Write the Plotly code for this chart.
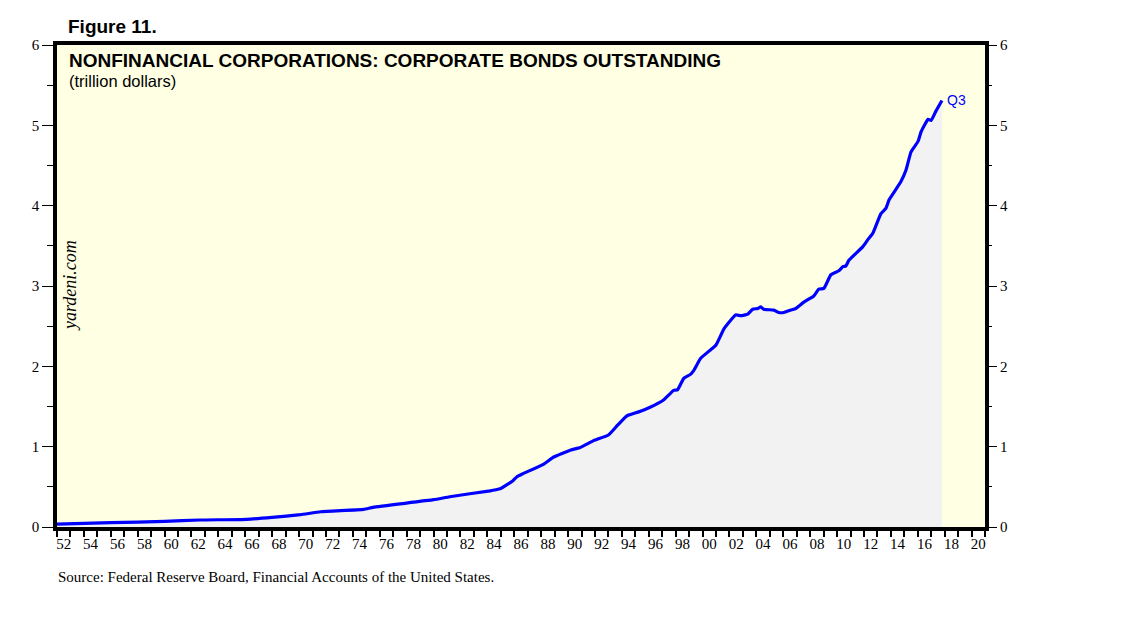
import plotly.graph_objects as go

# Data (decimal year, trillion dollars)
years = [1952.0, 1956.0, 1960.0, 1962.6, 1966.1, 1968.0, 1970.1, 1971.6, 1974.8, 1975.5,
         1980.0, 1981.2, 1984.2, 1984.5, 1985.0, 1985.9, 1986.2, 1986.6, 1988.2, 1988.9,
         1990.2, 1990.9, 1991.9, 1993.0, 1993.7, 1994.4, 1995.2, 1996.1, 1997.1, 1997.85,
         1998.15, 1998.6, 1999.1, 1999.35, 1999.86, 2001.0, 2001.6, 2002.46, 2002.84, 2003.36,
         2003.73, 2004.1, 2004.33, 2004.55, 2005.3, 2005.67, 2006.04, 2006.56, 2006.93, 2007.53,
         2008.27, 2008.64, 2009.02, 2009.54, 2010.13, 2010.43, 2010.66, 2010.88, 2011.92, 2012.3,
         2012.67, 2013.26, 2013.64, 2013.86, 2014.75, 2015.12, 2015.5, 2016.02, 2016.25, 2016.77,
         2016.99, 2017.36, 2017.8]
bonds = [0.037, 0.054, 0.070, 0.087, 0.096, 0.120, 0.153, 0.190, 0.220, 0.245,
         0.340, 0.377, 0.450, 0.460, 0.480, 0.577, 0.626, 0.660, 0.784, 0.868,
         0.959, 0.990, 1.075, 1.145, 1.270, 1.386, 1.430, 1.490, 1.580, 1.700,
         1.710, 1.850, 1.900, 1.950, 2.100, 2.266, 2.470, 2.640, 2.630, 2.650,
         2.710, 2.720, 2.740, 2.710, 2.700, 2.670, 2.670, 2.700, 2.720, 2.800,
         2.876, 2.960, 2.970, 3.140, 3.190, 3.240, 3.250, 3.320, 3.490, 3.580,
         3.660, 3.900, 3.970, 4.070, 4.300, 4.440, 4.670, 4.800, 4.920, 5.075,
         5.060, 5.180, 5.310]

label_years = list(range(1952, 2021, 2))
x_tickvals = [y + 0.5 for y in label_years]
x_ticktext = [f"{y % 100:02d}" for y in label_years]
minor_ticks = list(range(1952, 2022))
y_ticks = [0, 1, 2, 3, 4, 5, 6]

# page has an 8px body margin; work in screen pixels, then offset
OFF = 8
W, H = 1130, 613
L, R, T, B = 57, 985, 45, 527   # plot area in screen pixels

def px(xp):
    return (xp - L) / (R - L)

def py(yp):
    return (B - yp) / (B - T)

serif = "Liberation Serif, Times New Roman, serif"
sans = "Liberation Sans, Arial, sans-serif"

fig = go.Figure()
fig.add_trace(go.Scatter(
    x=years, y=bonds, mode="lines",
    line=dict(color="#0000FF", width=3.2, shape="spline", smoothing=0.4),
    fill="tozeroy", fillcolor="#F2F2F2",
    hoverinfo="skip", showlegend=False,
))
fig.add_trace(go.Scatter(
    x=years, y=bonds, mode="lines", yaxis="y2",
    line=dict(color="rgba(0,0,0,0)", width=0),
    hoverinfo="skip", showlegend=False,
))

fig.update_layout(
    width=W, height=H,
    margin=dict(l=L - OFF, r=(W + OFF) - R, t=T - OFF, b=(H + OFF) - B),
    paper_bgcolor="white",
    plot_bgcolor="#FFFFE3",
    xaxis=dict(
        range=[1952, 2021], showgrid=False, zeroline=False,
        showline=True, linecolor="black", linewidth=3.5, mirror=True,
        tickvals=x_tickvals, ticktext=x_ticktext, ticks="",
        tickfont=dict(family=serif, size=15, color="black"),
        minor=dict(tickvals=minor_ticks, ticks="outside", ticklen=6,
                   tickwidth=2, tickcolor="black"),
    ),
    yaxis=dict(
        range=[0, 6], showgrid=False, zeroline=False,
        showline=True, linecolor="black", linewidth=3.5, mirror=True,
        tickvals=y_ticks, ticks="outside", ticklen=11, tickwidth=1.2,
        tickcolor="black",
        tickfont=dict(family=serif, size=15, color="black"),
        minor=dict(dtick=0.5, ticks="outside", ticklen=6, tickwidth=1.2,
                   tickcolor="black"),
    ),
    yaxis2=dict(
        range=[0, 6], overlaying="y", side="right", showgrid=False,
        zeroline=False, showline=False,
        tickvals=y_ticks, ticks="outside", ticklen=11, tickwidth=1.2,
        tickcolor="black",
        tickfont=dict(family=serif, size=15, color="black"),
        minor=dict(dtick=0.5, ticks="outside", ticklen=6, tickwidth=1.2,
                   tickcolor="black"),
    ),
)

annotations = [
    dict(text="<b>Figure 11.</b>", x=px(66), y=py(27), xref="paper", yref="paper",
         xanchor="left", yanchor="middle", showarrow=False,
         font=dict(family=sans, size=19, color="black")),
    dict(text="<b>NONFINANCIAL CORPORATIONS: CORPORATE BONDS OUTSTANDING</b>",
         x=px(67), y=py(60), xref="paper", yref="paper",
         xanchor="left", yanchor="middle", showarrow=False,
         font=dict(family=sans, size=19, color="black")),
    dict(text="(trillion dollars)", x=px(67), y=py(81), xref="paper", yref="paper",
         xanchor="left", yanchor="middle", showarrow=False,
         font=dict(family=sans, size=16.5, color="black")),
    dict(text="<i>yardeni.com</i>", x=px(70), y=py(286), xref="paper", yref="paper",
         xanchor="center", yanchor="middle", showarrow=False, textangle=-90,
         font=dict(family=serif, size=18, color="black")),
    dict(text="Source: Federal Reserve Board, Financial Accounts of the United States.",
         x=px(56), y=py(577), xref="paper", yref="paper",
         xanchor="left", yanchor="middle", showarrow=False,
         font=dict(family=serif, size=15, color="black")),
    dict(text="Q3", x=years[-1], y=bonds[-1], xref="x", yref="y",
         xanchor="left", yanchor="middle", xshift=3, showarrow=False,
         font=dict(family=sans, size=14, color="#0000FF")),
]
fig.update_layout(annotations=annotations)

fig.write_html("out.html")
